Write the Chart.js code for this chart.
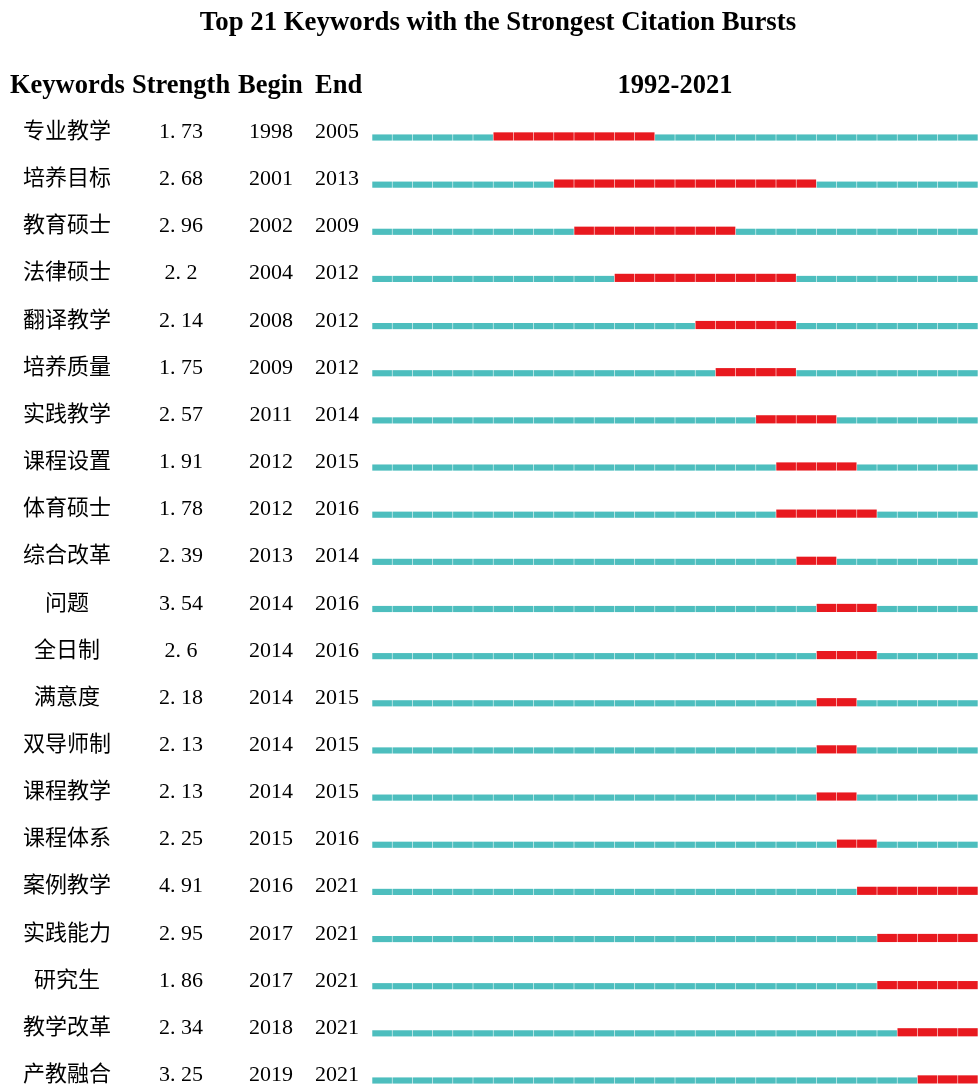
<!DOCTYPE html>
<html>
<head>
<meta charset="utf-8">
<script src="https://cdn.jsdelivr.net/npm/chart.js@4/dist/chart.umd.min.js"></script>
<style>
  html, body { margin: 0; padding: 0; background: #fff; }
  canvas { display: block; }
</style>
</head>
<body>
<canvas id="burstChart" width="978" height="1086"></canvas>
<script>
// ---- data ----
const keywords = ['专业教学', '培养目标', '教育硕士', '法律硕士', '翻译教学', '培养质量', '实践教学',
  '课程设置', '体育硕士', '综合改革', '问题', '全日制', '满意度', '双导师制', '课程教学',
  '课程体系', '案例教学', '实践能力', '研究生', '教学改革', '产教融合'];
const strength = ['1.73', '2.68', '2.96', '2.2', '2.14', '1.75', '2.57', '1.91', '1.78', '2.39', '3.54',
  '2.6', '2.18', '2.13', '2.13', '2.25', '4.91', '2.95', '1.86', '2.34', '3.25'];
const beginYear = [1998, 2001, 2002, 2004, 2008, 2009, 2011, 2012, 2012, 2013, 2014,
  2014, 2014, 2014, 2014, 2015, 2016, 2017, 2017, 2018, 2019];
const endYear = [2005, 2013, 2009, 2012, 2012, 2012, 2014, 2015, 2016, 2014, 2016,
  2016, 2015, 2015, 2015, 2016, 2021, 2021, 2021, 2021, 2021];
const firstYear = 1992;
const lastYear = 2021;

const TEAL = '#4dbebe';
const RED = '#e8191f';
const SERIF = '"Liberation Serif", "Times New Roman", serif';
const CJK = '"Noto Sans CJK SC", sans-serif';

// one dataset per year and colour, so every year is its own little segment
const datasets = [];
for (let yr = firstYear; yr <= lastYear; yr++) {
  const seg = [yr + 0.03, yr + 0.97];
  const inBurst = i => yr >= beginYear[i] && yr <= endYear[i];
  const teal = [], red = [];
  keywords.forEach((k, i) => (inBurst(i) ? red : teal).push({ x: seg, y: i }));
  datasets.push({ data: teal, backgroundColor: TEAL, barThickness: 5.5, yAxisID: 'y', clip: false });
  datasets.push({ data: red, backgroundColor: RED, barThickness: 7.5, yAxisID: 'y2', clip: false });
}

// title, column headers and the table on the left
const tablePlugin = {
  id: 'burstTable',
  afterDraw(chart) {
    const ctx = chart.ctx;
    const ys = chart.scales.y;
    ctx.save();
    ctx.fillStyle = '#000';
    ctx.textBaseline = 'alphabetic';

    ctx.font = 'bold 26.8px ' + SERIF;
    ctx.textAlign = 'center';
    ctx.fillText('Top 21 Keywords with the Strongest Citation Bursts', 498, 30);

    ctx.font = 'bold 26.5px ' + SERIF;
    ctx.textAlign = 'left';
    ctx.fillText('Keywords', 10, 93);
    ctx.fillText('Strength', 132, 93);
    ctx.fillText('Begin', 238, 93);
    ctx.fillText('End', 315, 93);
    ctx.textAlign = 'center';
    ctx.fillText(firstYear + '-' + lastYear, 675, 93);

    keywords.forEach((k, i) => {
      const y = ys.getPixelForValue(i) + 0.5;
      ctx.font = '22px ' + CJK;
      ctx.fillText(k, 67, y);
      ctx.font = '22px ' + SERIF;
      ctx.fillText(strength[i].replace('.', '. '), 181, y);
      ctx.fillText(String(beginYear[i]), 271, y);
      ctx.fillText(String(endYear[i]), 337, y);
    });
    ctx.restore();
  }
};

new Chart(document.getElementById('burstChart'), {
  type: 'bar',
  data: { datasets },
  options: {
    indexAxis: 'y',
    responsive: false,
    animation: false,
    grouped: false,
    layout: { padding: { left: 372, right: 0, top: 137.5, bottom: 5.5 } },
    scales: {
      x: { type: 'linear', min: firstYear, max: lastYear + 1, display: false },
      y: { type: 'linear', min: 0, max: keywords.length - 1, reverse: true, offset: false, display: false },
      // same rows, nudged ~1px up so the red bars sit on the teal baseline
      y2: { type: 'linear', min: 0.023, max: keywords.length - 1 + 0.023, reverse: true, offset: false, display: false }
    },
    plugins: {
      legend: { display: false },
      tooltip: { enabled: false },
      title: { display: false }
    }
  },
  plugins: [tablePlugin]
});
</script>
</body>
</html>
